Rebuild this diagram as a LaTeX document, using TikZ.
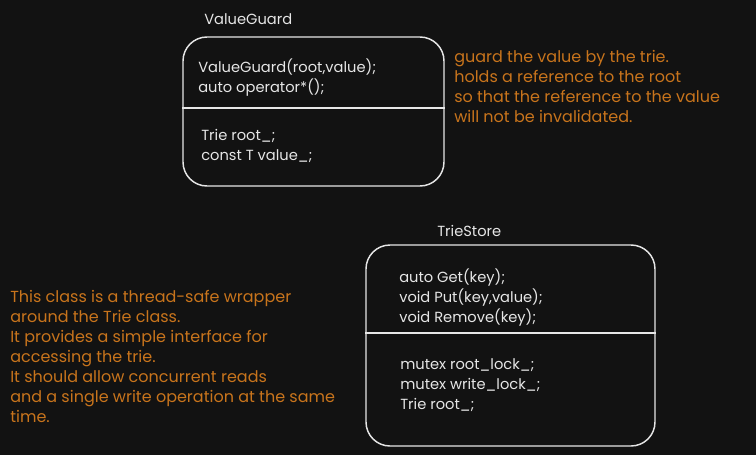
\documentclass[tikz,border=0pt]{standalone}
\usepackage{fontspec}
\setmainfont{Poppins}
\usepackage{xcolor}
\usepackage{tikz}
\definecolor{canvas}{HTML}{121212}
\definecolor{ink}{HTML}{E6E6E6}
\definecolor{memo}{HTML}{C8741C}

\begin{document}
\begin{tikzpicture}[x=0.75pt,y=-0.75pt,
        classbox/.style={draw=ink, line width=1.1pt, rounded corners=18pt, inner sep=0pt},
        code/.style={text=ink, anchor=base west, inner sep=0pt, font=\fontsize{11}{15}\selectfont},
        memotext/.style={text=memo, anchor=base west, inner sep=0pt, font=\fontsize{12}{15}\selectfont}]
            \fill[canvas] (0,0) rectangle (756,455);
            \useasboundingbox (0,0) rectangle (756,455);

            % ValueGuard
            \node[classbox, minimum width=195.75pt, minimum height=111.75pt] (guard) at (313.5,111.5) {};
            \node[code] (guardname) at (204,24) {ValueGuard};
            \coordinate (guardsep) at (0,108);
            \draw[ink, line width=1.1pt] (guard.west |- guardsep) -- (guard.east |- guardsep);
            \foreach \t [count=\i from 0] in {{ValueGuard(root,value);},{auto operator*();}}{
                \node[code] (guardop\i) at (198,72+20*\i) {\t};
            }
            \foreach \t [count=\i from 0] in {{Trie root\_;},{const T value\_;}}{
                \node[code] (guardvar\i) at (201,140+20*\i) {\t};
            }

            % TrieStore
            \node[classbox, minimum width=216.75pt, minimum height=150.75pt] (store) at (510.5,345.5) {};
            \node[code] (storename) at (437,236) {TrieStore};
            \coordinate (storesep) at (0,333);
            \draw[ink, line width=1.1pt] (store.west |- storesep) -- (store.east |- storesep);
            \foreach \t [count=\i from 0] in {{auto Get(key);},{void Put(key,value);},{void Remove(key);}}{
                \node[code] (storeop\i) at (399,282+20*\i) {\t};
            }
            \foreach \t [count=\i from 0] in {{mutex root\_lock\_;},{mutex write\_lock\_;},{Trie root\_;}}{
                \node[code] (storevar\i) at (400,369+20*\i) {\t};
            }

            % notes
            \foreach \t [count=\i from 0] in {{guard the value by the trie.},{holds a reference to the root},
                {so that the reference to the value},{will not be invalidated.}}{
                \node[memotext] (guardmemo\i) at (454,62+20*\i) {\t};
            }
            \foreach \t [count=\i from 0] in {{This class is a thread-safe wrapper},{around the Trie class.},
                {It provides a simple interface for},{accessing the trie.},{It should allow concurrent reads},
                {and a single write operation at the same},{time.}}{
                \node[memotext] (storememo\i) at (10,302+20*\i) {\t};
            }
        \end{tikzpicture}
\end{document}
